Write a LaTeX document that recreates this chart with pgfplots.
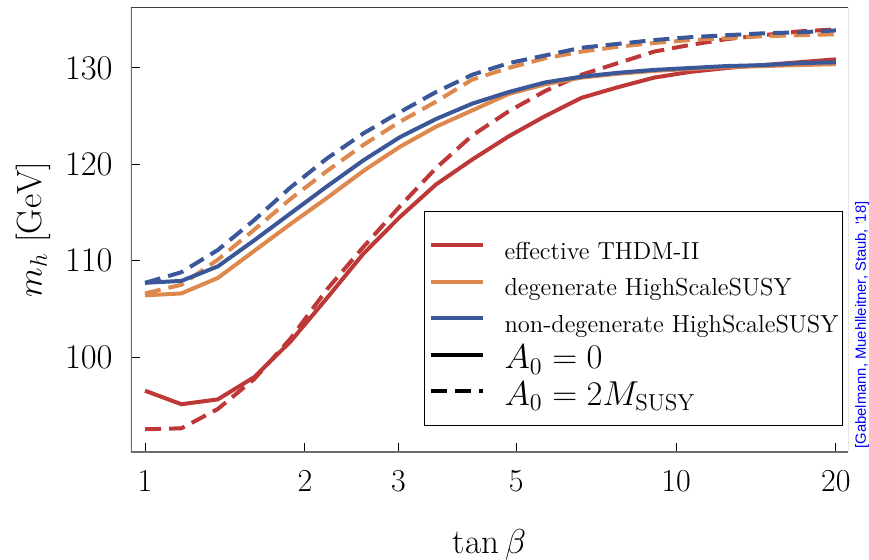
\documentclass[border=0pt]{standalone}
\usepackage{pgfplots}
\usepackage{pgfplotstable}
\pgfplotsset{compat=1.18}
\usepackage{fontspec}
\newfontfamily\credfont{Liberation Sans}
\definecolor{cR}{RGB}{190,56,56}
\definecolor{cO}{RGB}{221,136,77}
\definecolor{cB}{RGB}{58,88,153}
\pgfplotstableread{
x      rs    rd    os    od    bs    bd
1      96.5  92.5  106.4 106.6 107.7 107.7
1.1708 95.1  92.6  106.6 107.5 107.9 108.8
1.3707 95.6  94.6  108.2 110.1 109.4 111.1
1.6048 97.9  97.7  111.0 113.2 112.1 114.2
1.8789 101.6 101.9 113.8 116.4 114.9 117.6
2.1998 106.1 107.0 116.5 119.3 117.7 120.6
2.5755 110.7 111.4 119.3 122.0 120.4 123.2
3.0153 114.5 115.6 121.8 124.4 122.8 125.4
3.5302 117.9 119.6 123.9 126.5 124.7 127.5
4.1331 120.5 123.0 125.6 128.8 126.3 129.3
4.8390 122.9 125.5 127.3 130.0 127.5 130.5
5.6654 125.0 127.6 128.3 131.0 128.5 131.3
6.6329 126.9 129.3 129.0 131.7 129.1 132.1
7.7657 128.0 130.5 129.4 132.2 129.5 132.5
9.0919 129.0 131.7 129.7 132.6 129.8 132.9
10.645 129.6 132.4 129.9 132.9 130.0 133.2
12.462 130.0 133.0 130.1 133.1 130.2 133.4
14.591 130.3 133.4 130.2 133.3 130.3 133.6
17.083 130.6 133.8 130.3 133.4 130.5 133.7
20     130.9 134.0 130.4 133.5 130.6 133.9
}\data
\begin{document}
\begin{tikzpicture}
\begin{axis}[
  at={(0,0)}, anchor=south west,
  scale only axis, width=358.5pt, height=222.5pt,
  xmode=log, xmin=0.941, xmax=21.08, ymin=90.14, ymax=136.33,
  xtick={1,2,3,5,10,20}, xticklabels={1,2,3,5,10,20},
  minor xtick={},
  ytick={100,110,120,130},
  xtick pos=bottom, ytick pos=left,
  tick align=inside, major tick length=4.5pt,
  tick style={black, line width=0.5pt},
  axis line style={draw=none},
  ticklabel style={font=\fontsize{16}{16}\selectfont},
  xticklabel style={inner sep=0pt, yshift=-9pt},
  yticklabel style={inner sep=0pt, xshift=-9pt},
  xlabel={$\tan\beta$}, ylabel={$m_h~[\mathrm{GeV}]$},
  label style={font=\fontsize{17.5}{17.5}\selectfont},
  xlabel style={at={(axis description cs:0.5,-0.209)}, anchor=center},
  ylabel style={at={(axis description cs:-0.1367,0.5)}, anchor=center},
  legend image code/.code={\draw[#1] (2pt,0pt) -- (28pt,0pt);},
  legend style={at={(axis description cs:0.4087,0.5416)}, anchor=north west,
    draw=black, line width=0.5pt, fill=white, inner xsep=2pt, inner ysep=10pt,
    column sep=0pt, row sep=4.25pt,
    font=\fontsize{12.3}{12.3}\selectfont,
    nodes={inner xsep=0pt, inner ysep=0pt, text height=14pt, text depth=0pt}},
  legend cell align=left,
  legend columns=1,
  every axis plot/.append style={line width=2pt},
]
\addlegendimage{cR, line width=2pt}
\addlegendentry{\hspace{10pt}effective THDM-II}
\addlegendimage{cO, line width=2pt}
\addlegendentry{\hspace{10pt}degenerate HighScaleSUSY}
\addlegendimage{cB, line width=2pt}
\addlegendentry{\hspace{10pt}non-degenerate HighScaleSUSY\hspace{3pt}}
\addlegendimage{black, line width=2pt}
\addlegendentry{\hspace{10pt}\fontsize{16.5}{16.5}\selectfont$A_0=0$}
\addlegendimage{black, line width=2pt, dash pattern=on 8pt off 4pt}
\addlegendentry{\hspace{10pt}\fontsize{16.5}{16.5}\selectfont$A_0=2M_{\mathrm{SUSY}}$}

\addplot[cR, forget plot] table[x=x, y=rs] {\data};
\addplot[cR, dash pattern=on 8pt off 4pt, forget plot] table[x=x, y=rd] {\data};
\addplot[cO, forget plot] table[x=x, y=os] {\data};
\addplot[cO, dash pattern=on 8pt off 4pt, forget plot] table[x=x, y=od] {\data};
\addplot[cB, forget plot] table[x=x, y=bs] {\data};
\addplot[cB, dash pattern=on 8pt off 4pt, forget plot] table[x=x, y=bd] {\data};

\draw[gray!85!black, line width=1pt] (rel axis cs:0,1) -- (rel axis cs:0,0) -- (rel axis cs:1,0);
\draw[black!75, line width=0.5pt] (rel axis cs:0,1) -- (rel axis cs:1,1) -- (rel axis cs:1,0);
\end{axis}
\node[rotate=90, text=blue, inner sep=0pt, font=\credfont\fontsize{7.4}{7.4}\selectfont]
  at ([shift={(7pt,63.5pt)}]current axis.south east) {[Gabelmann, Muehlleitner, Staub, '18]};
\pgfresetboundingbox
\path ([shift={(-65.5pt,-53.5pt)}]current axis.south west) rectangle ([shift={(10.5pt,3.5pt)}]current axis.north east);
\end{tikzpicture}
\end{document}
